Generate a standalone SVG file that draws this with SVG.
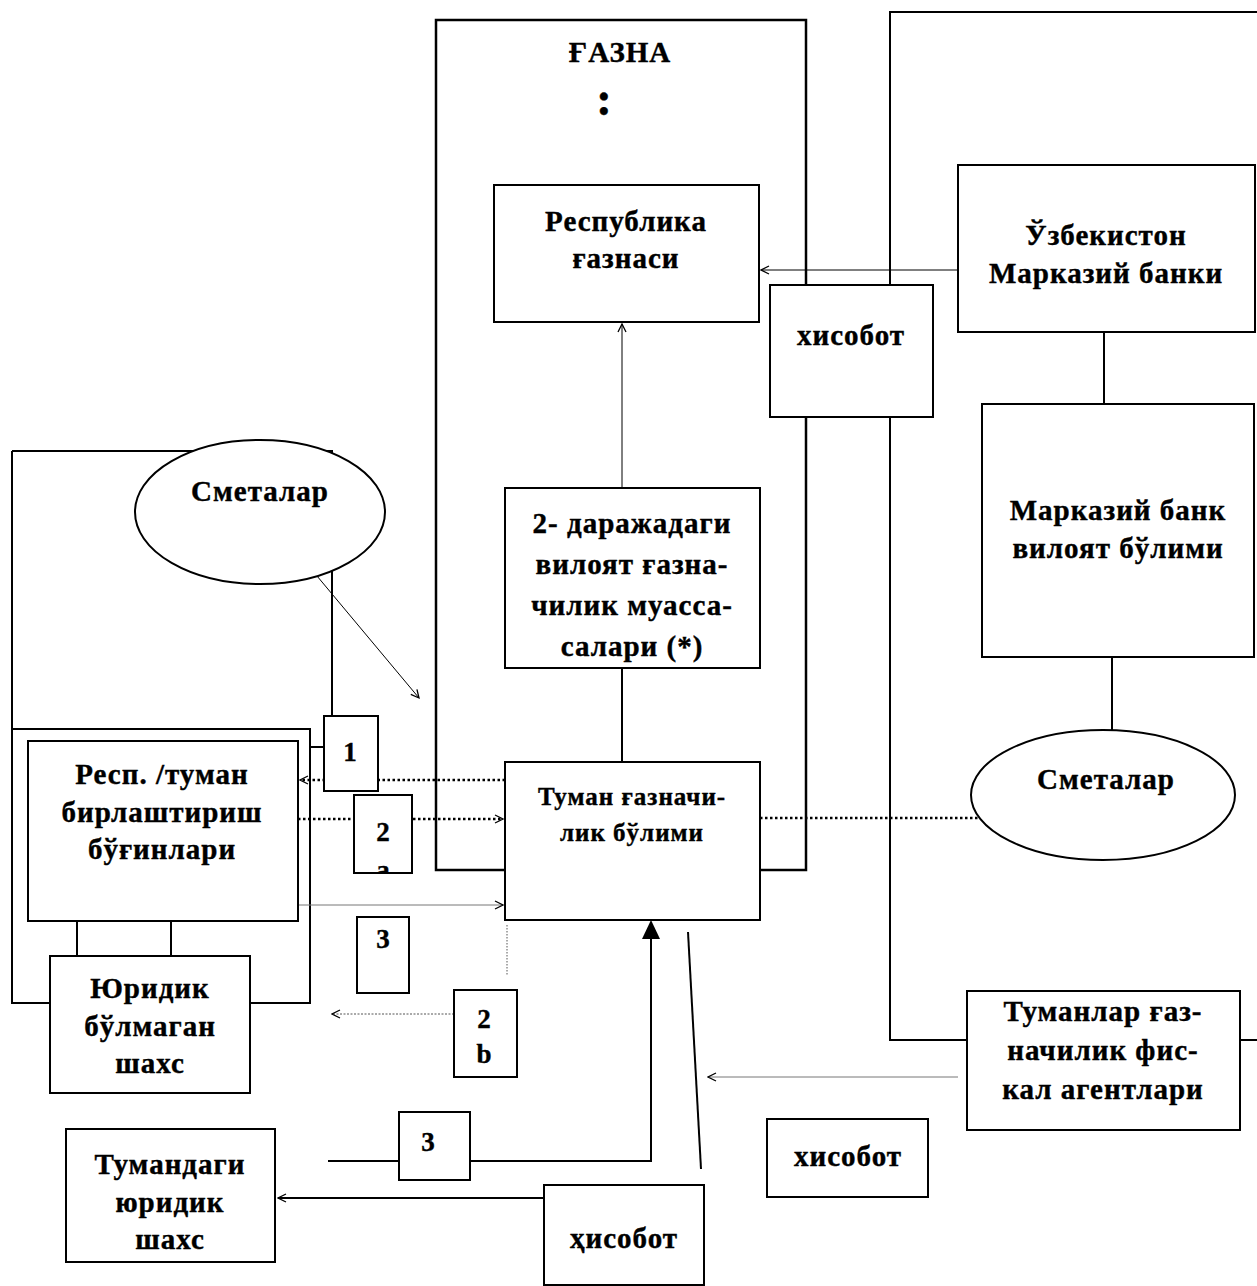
<svg xmlns="http://www.w3.org/2000/svg" width="1257" height="1286" viewBox="0 0 1257 1286">
<style>
.b{fill:#fff;stroke:#000;stroke-width:2}
.t{font-family:"Liberation Serif","Times New Roman",serif;font-weight:bold;font-size:29px;letter-spacing:1px;text-anchor:middle;fill:#000;stroke:#000;stroke-width:0.4}
.s{font-size:25px}
.d{font-size:27px;letter-spacing:0}
.ln{fill:none;stroke:#000;stroke-width:2}
.th{fill:none;stroke:#000;stroke-width:1}
.gr{fill:none;stroke:#777;stroke-width:1}
.dt{fill:none;stroke:#000;stroke-width:2.5;stroke-dasharray:2.5 2.5}
</style>
<defs>
<marker id="oa" markerWidth="10" markerHeight="10" refX="9" refY="5" orient="auto" markerUnits="userSpaceOnUse">
<path d="M1,1 L9,5 L1,9" fill="none" stroke="#000" stroke-width="1.3"/>
</marker>
<clipPath id="c2a"><rect x="354" y="795" width="58" height="77"/></clipPath>
</defs>
<rect width="1257" height="1286" fill="#fff"/>

<g id="frames">
<rect x="436" y="20" width="370" height="850" fill="none" stroke="#000" stroke-width="2.5"/>
<path class="ln" d="M1257,12 H890 V1040 H967 M1240,1040 H1257"/>
<path class="ln" d="M12,451 H332 V716"/>
<path class="ln" d="M12,451 V1003 H50 M250,1003 H310 V729 H12 M310,747 H324"/>
</g>

<g id="connectors">
<line class="th" x1="958" y1="270" x2="761" y2="270" marker-end="url(#oa)"/>
<line class="th" x1="622" y1="488" x2="622" y2="324" marker-end="url(#oa)"/>
<line class="ln" x1="1104" y1="332" x2="1104" y2="404"/>
<line class="ln" x1="1112" y1="657" x2="1112" y2="730"/>
<line class="dt" x1="760" y1="818" x2="978" y2="818"/>
<line class="ln" x1="622" y1="668" x2="622" y2="762"/>
<line class="th" x1="317" y1="576" x2="419" y2="698" marker-end="url(#oa)"/>
<line class="dt" x1="505" y1="780" x2="300" y2="780" marker-end="url(#oa)"/>
<line class="dt" x1="298" y1="819" x2="503" y2="819" marker-end="url(#oa)"/>
<line class="gr" x1="298" y1="905" x2="503" y2="905" marker-end="url(#oa)"/>
<line x1="507" y1="925" x2="507" y2="975" stroke="#555" stroke-width="1" stroke-dasharray="1.5 1.5"/>
<line x1="454" y1="1014" x2="332" y2="1014" stroke="#555" stroke-width="1" stroke-dasharray="2 1.5" marker-end="url(#oa)"/>
<line class="ln" x1="77" y1="921" x2="77" y2="956"/>
<line class="ln" x1="171" y1="921" x2="171" y2="964"/>
<path class="ln" d="M328,1161 H651 V938"/>
<path d="M651,920 L642,939 L660,939 Z" fill="#000"/>
<line class="ln" x1="688" y1="932" x2="701" y2="1169"/>
<line class="gr" x1="958" y1="1077" x2="708" y2="1077" marker-end="url(#oa)"/>
<line class="ln" x1="544" y1="1198" x2="278" y2="1198" marker-end="url(#oa)"/>
</g>

<g id="n-gazna"><text class="t" x="620" y="62">ҒАЗНА</text><text class="t" x="604" y="115" style="font-size:48px;letter-spacing:0">:</text></g>

<g id="n-respublika"><rect class="b" x="494" y="185" width="265" height="137"/>
<text class="t" x="626" y="231">Республика</text><text class="t" x="626" y="268">ғазнаси</text></g>

<g id="n-hisobot1"><rect class="b" x="770" y="285" width="163" height="132"/>
<text class="t" x="851" y="345">хисобот</text></g>

<g id="n-markaziy"><rect class="b" x="958" y="165" width="297" height="167"/>
<text class="t" x="1106" y="245">Ўзбекистон</text><text class="t" x="1106" y="283">Марказий банки</text></g>

<g id="n-viloyat-bank"><rect class="b" x="982" y="404" width="272" height="253"/>
<text class="t" x="1118" y="520">Марказий банк</text><text class="t" x="1118" y="558">вилоят бўлими</text></g>

<g id="n-smeta-r"><ellipse class="b" cx="1103" cy="795" rx="132" ry="65"/>
<text class="t" x="1106" y="789">Сметалар</text></g>

<g id="n-daraja"><rect class="b" x="505" y="488" width="255" height="180"/>
<text class="t" x="632" y="533">2- даражадаги</text><text class="t" x="632" y="574">вилоят ғазна-</text><text class="t" x="632" y="615">чилик муасса-</text><text class="t" x="632" y="656">салари (*)</text></g>

<g id="n-tuman"><rect class="b" x="505" y="762" width="255" height="158"/>
<text class="t s" x="632" y="805">Туман ғазначи-</text><text class="t s" x="632" y="841">лик бўлими</text></g>

<g id="n-smeta-l"><ellipse class="b" cx="260" cy="512" rx="125" ry="72"/>
<text class="t" x="260" y="501">Сметалар</text></g>

<g id="n-1"><rect class="b" x="324" y="716" width="54" height="75"/><text class="t d" x="350" y="761">1</text></g>

<g id="n-resp"><rect class="b" x="28" y="741" width="270" height="180"/>
<text class="t" x="162" y="784">Респ. /туман</text><text class="t" x="162" y="822">бирлаштириш</text><text class="t" x="162" y="859">бўғинлари</text></g>

<g id="n-2a"><rect class="b" x="354" y="795" width="58" height="78"/>
<text class="t d" x="383" y="841">2</text><text class="t d" x="383" y="879" clip-path="url(#c2a)">а</text></g>

<g id="n-3a"><rect class="b" x="357" y="917" width="52" height="76"/><text class="t d" x="383" y="948">3</text></g>

<g id="n-2b"><rect class="b" x="454" y="990" width="63" height="87"/>
<text class="t d" x="484" y="1028">2</text><text class="t d" x="484" y="1063">b</text></g>

<g id="n-yuridik-emas"><rect class="b" x="50" y="956" width="200" height="137"/>
<text class="t" x="150" y="998">Юридик</text><text class="t" x="150" y="1036">бўлмаган</text><text class="t" x="150" y="1073">шахс</text></g>

<g id="n-3b"><rect class="b" x="399" y="1112" width="71" height="68"/><text class="t d" x="428" y="1151">3</text></g>

<g id="n-tumandagi"><rect class="b" x="66" y="1129" width="209" height="133"/>
<text class="t" x="170" y="1174">Тумандаги</text><text class="t" x="170" y="1212">юридик</text><text class="t" x="170" y="1249">шахс</text></g>

<g id="n-agent"><rect class="b" x="967" y="991" width="273" height="139"/>
<text class="t" x="1103" y="1021">Туманлар ғаз-</text><text class="t" x="1103" y="1060">начилик фис-</text><text class="t" x="1103" y="1099">кал агентлари</text></g>

<g id="n-hisobot2"><rect class="b" x="767" y="1119" width="161" height="78"/><text class="t" x="848" y="1166">хисобот</text></g>

<g id="n-hisobot3"><rect class="b" x="544" y="1185" width="160" height="100"/><text class="t" x="624" y="1248">ҳисобот</text></g>
</svg>
